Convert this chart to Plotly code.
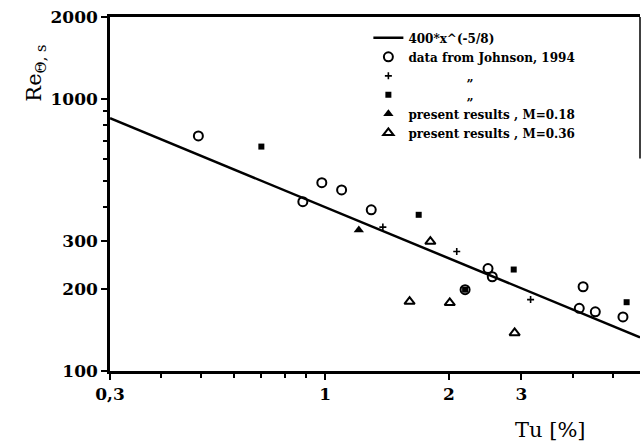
import plotly.graph_objects as go

# Fit line (at the plot edges)
fit_x = [0.3, 5.83]
fit_y = [849, 133]

# Johnson 1994 - circles
circ_x = [0.492, 0.883, 0.982, 1.097, 1.295, 2.49, 2.55, 2.19, 4.24, 4.15, 4.54, 5.30]
circ_y = [731, 419, 492, 463, 391, 238, 222, 199, 204, 170, 165, 158]

# Johnson - plus
plus_x = [1.382, 2.09, 3.16]
plus_y = [338, 275, 183]

# Johnson - squares
sq_x = [0.700, 1.689, 2.875, 5.41, 2.19]
sq_y = [668, 375, 236, 179, 199]

# present results M=0.18 (filled triangles)
tf_x = [1.208]
tf_y = [330]

# present results M=0.36 (open triangles)
to_x = [1.803, 1.605, 2.01, 2.89]
to_y = [299, 180, 178, 138]

x_tickvals = [0.3, 1, 2, 3]
x_ticktext = ["0,3", "1", "2", "3"]
x_minor = [0.4, 0.5, 0.6, 0.7, 0.8, 0.9, 4, 5]
y_tickvals = [100, 200, 300, 1000, 2000]
y_ticktext = ["100", "200", "300", "1000", "2000"]
y_minor = [400, 500, 600, 700, 800, 900]

SERIF = "DejaVu Serif"
ditto = "&nbsp;" * 14 + "„"

fig = go.Figure()
fig.add_trace(go.Scatter(x=fit_x, y=fit_y, mode="lines", name="400*x^(-5/8)",
                         line=dict(color="black", width=2.5)))
fig.add_trace(go.Scatter(x=circ_x, y=circ_y, mode="markers", name="data from Johnson, 1994",
                         marker=dict(symbol="circle-open", size=9, color="black", line=dict(width=2))))
fig.add_trace(go.Scatter(x=plus_x, y=plus_y, mode="markers", name=ditto,
                         marker=dict(symbol="cross-thin-open", size=5, color="black", line=dict(width=1.6))))
fig.add_trace(go.Scatter(x=sq_x, y=sq_y, mode="markers", name=ditto,
                         marker=dict(symbol="square", size=6, color="black")))
fig.add_trace(go.Scatter(x=tf_x, y=tf_y, mode="markers", name="present results , M=0.18",
                         marker=dict(symbol="triangle-up", size=9, color="black")))
fig.add_trace(go.Scatter(x=to_x, y=to_y, mode="markers", name="present results , M=0.36",
                         marker=dict(symbol="triangle-up-open", size=9, color="black", line=dict(width=2))))

fig.update_layout(
    width=641, height=446,
    margin=dict(l=110, r=1, t=17, b=75),
    paper_bgcolor="white", plot_bgcolor="white",
    font=dict(family=SERIF, color="black"),
    showlegend=True,
    legend=dict(x=0.4875, y=0.982, xanchor="left", yanchor="top",
                bgcolor="rgba(0,0,0,0)", borderwidth=0,
                font=dict(family=SERIF, size=12, color="black", weight="bold"),
                itemwidth=30, tracegroupgap=0),
    xaxis=dict(type="log", range=[-0.5229, 0.7657],
               tickmode="array", tickvals=x_tickvals, ticktext=x_ticktext,
               ticks="outside", ticklen=6, tickwidth=2, tickcolor="black",
               minor=dict(tickmode="array", tickvals=x_minor, ticks="outside", ticklen=4,
                          tickwidth=1.5, tickcolor="black", showgrid=False),
               showline=True, linewidth=2.5, linecolor="black", mirror=True,
               showgrid=False, zeroline=False,
               tickfont=dict(family=SERIF, size=17, color="black", weight="bold")),
    yaxis=dict(type="log", range=[2, 3.30103],
               tickmode="array", tickvals=y_tickvals, ticktext=y_ticktext,
               ticks="outside", ticklen=6, tickwidth=2, tickcolor="black",
               minor=dict(tickmode="array", tickvals=y_minor, ticks="outside", ticklen=4,
                          tickwidth=1.5, tickcolor="black", showgrid=False),
               showline=True, linewidth=2.5, linecolor="black", mirror=False,
               showgrid=False, zeroline=False,
               tickfont=dict(family=SERIF, size=17, color="black", weight="bold")),
    annotations=[
        dict(text="Re<sub>Θ, s</sub>", xref="paper", yref="paper", x=-0.1415, y=0.84,
             xanchor="center", yanchor="middle", textangle=-90, showarrow=False,
             font=dict(family=SERIF, size=21, color="black")),
        dict(text="Tu [%]", xref="paper", yref="paper", x=0.832, y=-0.167,
             xanchor="center", yanchor="middle", showarrow=False,
             font=dict(family=SERIF, size=21, color="black")),
    ],
    shapes=[
        dict(type="line", xref="paper", yref="paper", x0=1, x1=1, y0=1, y1=0.6,
             line=dict(color="black", width=1.5)),
    ],
)

fig.write_html("out.html", config={"displayModeBar": False},
               post_script="document.body.style.margin='0px';")
